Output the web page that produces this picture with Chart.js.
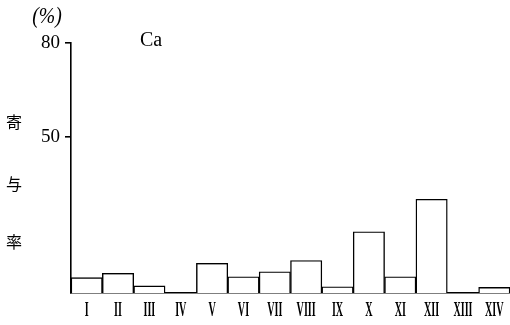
<!DOCTYPE html>
<html><head><meta charset="utf-8">
<script src="https://cdn.jsdelivr.net/npm/chart.js@4/dist/chart.umd.min.js"></script>
<style>html,body{margin:0;padding:0;background:#fff}#wrap{width:510px;height:325px;position:relative}</style>
</head><body><div id="wrap"><canvas id="c" width="510" height="325"></canvas></div>
<script>
// Contribution ratio (%) of Ca per group I–XIV
const categories = ['I','II','III','IV','V','VI','VII','VIII','IX','X','XI','XII','XIII','XIV'];
const contribution = [4.9, 6.3, 2.3, 0, 9.5, 5.2, 6.8, 10.4, 2.0, 19.6, 5.2, 30.0, 0, 1.8];
const yTickValues = [50, 80];
const unitLabel = '(%)';
const elementLabel = 'Ca';
const axisTitleChars = ['寄', '与', '率'];

// Draws condensed roman-numeral category labels and the free text
const annotate = {
  id: 'annotate',
  afterDraw(chart) {
    const ctx = chart.ctx;
    const xs = chart.scales.x;
    ctx.save();
    ctx.fillStyle = '#000';
    ctx.textAlign = 'center';
    ctx.textBaseline = 'middle';
    ctx.font = 'bold 22px "Liberation Serif"';
    categories.forEach((c, i) => {
      ctx.save();
      ctx.translate(xs.getPixelForTick(i), 310);
      ctx.scale(0.46, 1);
      ctx.fillText(c, 0, 0);
      ctx.restore();
    });
    // unit
    ctx.save();
    ctx.font = 'italic 24px "Liberation Serif"';
    ctx.translate(47, 17);
    ctx.scale(0.82, 1);
    ctx.fillText(unitLabel, 0, 0);
    ctx.restore();
    // element
    ctx.font = '20px "Liberation Serif"';
    ctx.textBaseline = 'alphabetic';
    ctx.fillText(elementLabel, 151, 46);
    // vertical axis title
    ctx.textBaseline = 'middle';
    ctx.font = '16px "Noto Sans CJK JP"';
    const ys = [122, 184, 242];
    axisTitleChars.forEach((ch, i) => ctx.fillText(ch, 14, ys[i]));
    ctx.restore();
  }
};

new Chart(document.getElementById('c'), {
  type: 'bar',
  data: {
    labels: categories,
    datasets: [{
      data: contribution,
      backgroundColor: '#fff',
      borderColor: '#000',
      borderWidth: 1.4,
      borderSkipped: 'bottom',
      barPercentage: 1,
      categoryPercentage: 1
    }]
  },
  options: {
    responsive: false,
    animation: false,
    events: [],
    layout: { padding: { top: 43, right: 0, bottom: 0, left: 0 } },
    plugins: { legend: { display: false }, tooltip: { enabled: false } },
    scales: {
      x: {
        grid: { display: false },
        border: { display: true, color: '#000', width: 1.6 },
        ticks: { display: false },
        afterFit(s) { s.height = 32; }
      },
      y: {
        min: 0,
        max: 80,
        afterBuildTicks(s) { s.ticks = yTickValues.map(v => ({ value: v })); },
        afterFit(s) { s.width = 71; },
        grid: { drawOnChartArea: false, drawTicks: true, tickLength: 6, color: '#000', lineWidth: 1.6 },
        border: { display: true, color: '#000', width: 1.6 },
        ticks: { color: '#000', padding: 5, font: { family: 'Liberation Serif', size: 19 } }
      }
    }
  },
  plugins: [annotate]
});
</script>
</body></html>
